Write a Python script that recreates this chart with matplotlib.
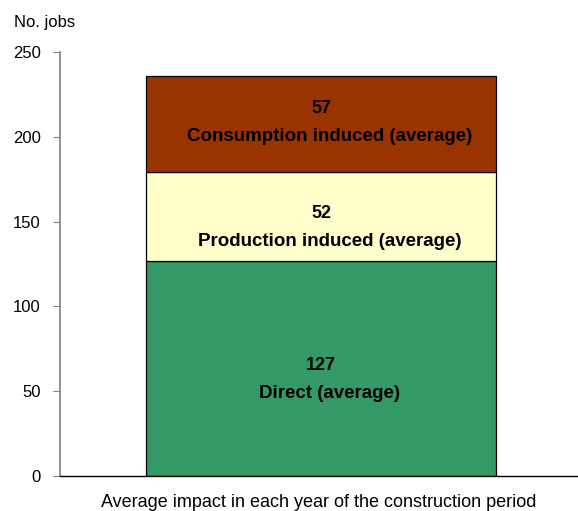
import matplotlib.pyplot as plt

plt.rcParams['font.family'] = ['Liberation Sans', 'DejaVu Sans']

category = 'Average impact in each year of the construction period'
segments = ['Direct (average)', 'Production induced (average)', 'Consumption induced (average)']
jobs = [127, 52, 57]
colors = ['#339966', '#FFFFCC', '#993300']

fig = plt.figure(figsize=(5.78, 5.11), dpi=100)
ax = fig.add_axes([0.1038, 0.0685, 0.8962, 0.8297])

bottom = 0
for i, (name, val, c) in enumerate(zip(segments, jobs, colors)):
    ax.bar(0.504, val, width=0.676, bottom=bottom, color=c, edgecolor='black', linewidth=0.9)
    mid = bottom + val / 2
    shift = 9 if i == len(jobs) - 1 else 0  # top label sits a bit higher
    ax.annotate(str(val), (0.504, mid), xytext=(0, 2 + shift), textcoords='offset points',
                ha='center', va='center', fontsize=13, fontweight='bold')
    ax.annotate(name, (0.52, mid), xytext=(0, -18 + shift), textcoords='offset points',
                ha='center', va='center', fontsize=13.5, fontweight='bold')
    bottom += val

ax.set_xlim(0, 1)
ax.set_ylim(0, 250)
ax.set_yticks(range(0, 251, 50))
ax.set_xticks([])
ax.tick_params(axis='y', labelsize=12, length=5, width=0.8, color='#808080', pad=9)
ax.spines['top'].set_visible(False)
ax.spines['right'].set_visible(False)
ax.spines['left'].set_color('#808080')
ax.spines['left'].set_linewidth(1.2)
ax.spines['bottom'].set_linewidth(1)

ax.set_xlabel(category, fontsize=13, labelpad=13)
fig.text(0.024, 0.955, 'No. jobs', fontsize=12, ha='left', va='center')

plt.savefig('out.png', dpi=100)
